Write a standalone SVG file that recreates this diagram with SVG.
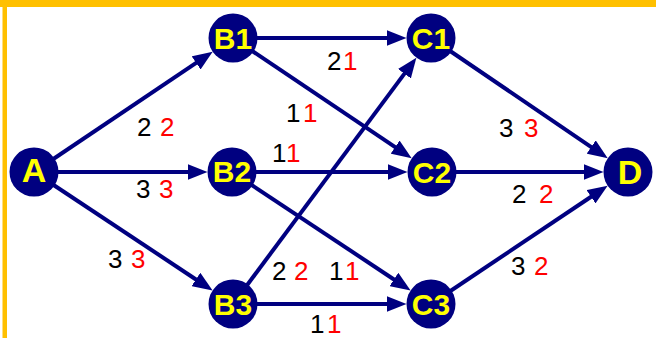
<svg xmlns="http://www.w3.org/2000/svg" width="656" height="338" viewBox="0 0 656 338">
  <style>
    .edge { stroke: #000080; stroke-width: 4; fill: none; marker-end: url(#arrow); }
    .node circle { fill: #000080; }
    .node text { fill: #FFFF00; font-family: "Liberation Sans", Arial, sans-serif; font-weight: bold; text-anchor: middle; }
    .n2 text { font-size: 30px; }
    .n1 text { font-size: 34px; }
    .lbl { font-family: "Liberation Sans", Arial, sans-serif; font-size: 26px; }
    .k { fill: #000000; }
    .r { fill: #FF0000; }
  </style>
  <defs>
    <marker id="arrow" markerUnits="userSpaceOnUse" markerWidth="20" markerHeight="16" refX="1" refY="8" orient="auto">
      <path d="M0,0 L20,8 L0,16 Z" fill="#000080"/>
    </marker>
  </defs>
  <rect x="0" y="0" width="656" height="338" fill="#FFFFFF"/>
  <rect x="0" y="0" width="656" height="7" fill="#FFC000"/>
  <rect x="2.5" y="0" width="4.5" height="338" fill="#FFC000"/>

  <g id="connectors">
    <line class="edge" x1="34" y1="172" x2="196.9" y2="62.3"/>
    <line class="edge" x1="34" y1="172" x2="188.5" y2="172"/>
    <line class="edge" x1="34" y1="172" x2="196.75" y2="279.96"/>
    <line class="edge" x1="233" y1="38" x2="387.5" y2="38"/>
    <line class="edge" x1="233" y1="38" x2="395.92" y2="147.7"/>
    <line class="edge" x1="232" y1="172" x2="388.5" y2="172"/>
    <line class="edge" x1="232" y1="172" x2="394.75" y2="279.96"/>
    <line class="edge" x1="233" y1="304" x2="405.03" y2="72.89"/>
    <line class="edge" x1="233" y1="304" x2="387.5" y2="304"/>
    <line class="edge" x1="431" y1="38" x2="592.03" y2="147.53"/>
    <line class="edge" x1="432" y1="172" x2="584.5" y2="172"/>
    <line class="edge" x1="431" y1="304" x2="591.85" y2="196.22"/>
  </g>

  <g id="edge-labels" class="lbl">
    <text y="136"><tspan class="k" x="137">2</tspan><tspan class="r" x="160">2</tspan></text>
    <text y="198"><tspan class="k" x="136">3</tspan><tspan class="r" x="159">3</tspan></text>
    <text y="268"><tspan class="k" x="108">3</tspan><tspan class="r" x="131">3</tspan></text>
    <text y="70"><tspan class="k" x="327">2</tspan><tspan class="r" x="343">1</tspan></text>
    <text y="122"><tspan class="k" x="286">1</tspan><tspan class="r" x="303">1</tspan></text>
    <text y="162"><tspan class="k" x="272">1</tspan><tspan class="r" x="286">1</tspan></text>
    <text y="280"><tspan class="k" x="272">2</tspan><tspan class="r" x="294">2</tspan></text>
    <text y="280"><tspan class="k" x="329">1</tspan><tspan class="r" x="345">1</tspan></text>
    <text y="333"><tspan class="k" x="310">1</tspan><tspan class="r" x="327">1</tspan></text>
    <text y="137"><tspan class="k" x="499">3</tspan><tspan class="r" x="524">3</tspan></text>
    <text y="203"><tspan class="k" x="512">2</tspan><tspan class="r" x="539">2</tspan></text>
    <text y="275"><tspan class="k" x="511">3</tspan><tspan class="r" x="534">2</tspan></text>
  </g>

  <g id="node-A" class="node n1"><circle cx="34" cy="172" r="24.5"/><text x="34" y="182">A</text></g>
  <g id="node-B1" class="node n2"><circle cx="233" cy="38" r="24.5"/><text x="233" y="49">B1</text></g>
  <g id="node-B2" class="node n2"><circle cx="232" cy="172" r="24.5"/><text x="232" y="182">B2</text></g>
  <g id="node-B3" class="node n2"><circle cx="233" cy="304" r="24.5"/><text x="233" y="315">B3</text></g>
  <g id="node-C1" class="node n2"><circle cx="431" cy="38" r="24.5"/><text x="431" y="49">C1</text></g>
  <g id="node-C2" class="node n2"><circle cx="432" cy="172" r="24.5"/><text x="432" y="183">C2</text></g>
  <g id="node-C3" class="node n2"><circle cx="431" cy="304" r="24.5"/><text x="431" y="315">C3</text></g>
  <g id="node-D" class="node n1"><circle cx="628" cy="172" r="24.5"/><text x="630" y="184">D</text></g>
</svg>
